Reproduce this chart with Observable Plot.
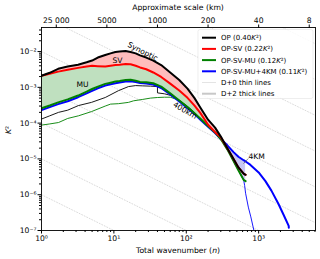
<!DOCTYPE html>
<html><head><meta charset="utf-8">
<script src="https://cdn.jsdelivr.net/npm/d3@7"></script>
<script src="https://cdn.jsdelivr.net/npm/@observablehq/plot@0.6"></script>
<style>body{margin:0;background:#fff}</style>
</head><body><div id="chart"></div>
<script>
// ---- data ----
const thickN = [1, 1.3, 1.7, 2.3, 3.2, 4.2, 5, 6, 7.6, 9, 10.5, 12, 14.5, 17, 20, 23, 28, 35, 45, 60, 80, 104, 130, 157, 200, 250, 300, 369, 450, 525, 620, 660];
const opD2   = [2.1e-3, 2.55e-3, 3.3e-3, 3.8e-3, 4.3e-3, 5.0e-3, 5.6e-3, 6.8e-3, 8.0e-3, 8.9e-3, 9.7e-3, 1.0e-2, 1.03e-2, 9.7e-3, 8.9e-3, 7.8e-3, 6.8e-3, 5.6e-3, 4.2e-3, 2.6e-3, 1.6e-3, 9.2e-4, 5.0e-4, 2.7e-4, 1.25e-4, 7.5e-5, 4.2e-5, 2.0e-5, 1.0e-5, 5.8e-6, 3.9e-6, 3.6e-6];
const svD2   = [2.1e-3, 2.4e-3, 2.75e-3, 3.1e-3, 3.5e-3, 3.8e-3, 4.0e-3, 3.9e-3, 3.8e-3, 4.0e-3, 4.2e-3, 4.3e-3, 4.5e-3, 4.4e-3, 4.0e-3, 3.6e-3, 3.2e-3, 2.6e-3, 1.95e-3, 1.27e-3, 8.2e-4, 5.1e-4, 3.1e-4, 1.9e-4, 9.0e-5, 5.6e-5, 4.0e-5, 2.0e-5, 1.0e-5, 5.8e-6, 3.9e-6, 3.6e-6];
const muD2   = [2.6e-4, 3.1e-4, 3.8e-4, 4.6e-4, 5.9e-4, 7.6e-4, 9.0e-4, 1.05e-3, 1.25e-3, 1.35e-3, 1.45e-3, 1.5e-3, 1.6e-3, 1.62e-3, 1.52e-3, 1.42e-3, 1.38e-3, 1.3e-3, 1.05e-3, 6.8e-4, 4.3e-4, 2.8e-4, 1.9e-4, 1.33e-4, 8.3e-5, 5.5e-5, 3.6e-5, 1.85e-5, 8.8e-6, 4.8e-6, 2.6e-6, 2.4e-6];
const kmN    = [1, 1.3, 1.7, 2.3, 3.2, 4.2, 5, 6, 7.6, 9, 10.5, 12, 14.5, 17, 20, 23, 28, 35, 45, 60, 80, 104, 130, 157, 200, 250, 300, 369, 450, 525, 620, 660, 770, 1000, 1240, 1500, 1880, 2200, 2600, 2610];
const kmD2   = [2.3e-4, 2.8e-4, 3.4e-4, 4.1e-4, 5.3e-4, 6.8e-4, 8.0e-4, 9.4e-4, 1.12e-3, 1.22e-3, 1.3e-3, 1.36e-3, 1.45e-3, 1.47e-3, 1.4e-3, 1.32e-3, 1.28e-3, 1.2e-3, 9.6e-4, 6.3e-4, 4.0e-4, 2.6e-4, 1.8e-4, 1.25e-4, 7.9e-5, 5.3e-5, 3.6e-5, 2.4e-5, 1.55e-5, 1.15e-5, 9.2e-6, 8.5e-6, 6.8e-6, 4.2e-6, 2.4e-6, 1.3e-6, 5.5e-7, 2.8e-7, 1.35e-7, 1.2e-7];

const thinOpN = [1, 1.3, 1.72, 2.3, 3.24, 4.9, 7.6, 11.6, 15.9, 20, 25, 32, 40, 40.01, 50, 60, 80, 104, 130, 157, 200, 250, 300];
const opD0    = [1.3e-4, 1.6e-4, 2.0e-4, 2.3e-4, 3.1e-4, 3.8e-4, 5.2e-4, 8.1e-4, 1.05e-3, 1.12e-3, 1.1e-3, 1.08e-3, 1.05e-3, 7.0e-4, 6.6e-4, 6.0e-4, 4.3e-4, 2.9e-4, 1.95e-4, 1.35e-4, 8.3e-5, 5.3e-5, 3.7e-5];
const thinMuN = [1, 1.3, 1.72, 2.3, 3.24, 4.9, 7.6, 9, 11.6, 15.9, 18.7, 25, 32, 40, 50, 60, 80, 104, 130, 157, 200, 250, 300, 369, 450, 525, 620];
const muD0    = [8.8e-5, 9.5e-5, 1.04e-4, 1.35e-4, 1.6e-4, 2.1e-4, 3.0e-4, 3.4e-4, 3.5e-4, 3.8e-4, 4.2e-4, 4.6e-4, 5.0e-4, 5.2e-4, 5.3e-4, 5.3e-4, 4.4e-4, 2.9e-4, 1.95e-4, 1.35e-4, 8.3e-5, 5.3e-5, 3.6e-5, 1.85e-5, 8.8e-6, 4.8e-6, 2.6e-6];
const thinKmN = [369, 450, 525, 620, 640, 660, 720, 780, 870];
const kmD0    = [1.85e-5, 8.8e-6, 4.8e-6, 2.6e-6, 1.8e-6, 1.1e-6, 4.5e-7, 2.4e-7, 9e-8];

const seriesNames = ["OP", "OP-SV", "OP-SV-MU", "OP-SV-MU+4KM"];
const seriesEnergy = ["0.40", "0.22", "0.12", "0.11"];
const seriesColors = ["black", "red", "green", "blue"];

const yTicks = [1e-7, 1e-6, 1e-5, 1e-4, 1e-3, 1e-2];
const yTickLabels = ["10⁻⁷", "10⁻⁶", "10⁻⁵", "10⁻⁴", "10⁻³", "10⁻²"];
const xTicks = [1, 10, 100, 1000];
const xTickLabels = ["10⁰", "10¹", "10²", "10³"];
const scaleKm = [25000, 5000, 1000, 200, 40, 8];
const scaleLabels = ["25 000", "5000", "1000", "200", "40", "8"];
const refC = [1e-8, 1e-7, 1e-6, 1e-5, 1e-4, 1e-3, 1e-2, 1e-1, 1, 10, 100];

const annN = [25, 11.2, 3.68, 96, 940];
const annK = [1.0e-2, 5.6e-3, 1.2e-3, 2.25e-4, 1.17e-5];
const annText = ["Synoptic", "SV", "MU", "400km", "4KM"];
const annRot = [27, 0, 0, 30, 0];

// ---- tables ----
const font = "DejaVu Sans";
const thick = thickN.map((n, i) => ({n, op: opD2[i], sv: svD2[i], mu: muD2[i], km: kmD2[i]}));
const kmFill = thick.filter(d => d.n >= 300);
const opRows = thickN.map((n, i) => ({n, k: opD2[i]}));
const svRows = thickN.map((n, i) => ({n, k: svD2[i]}));
const muRows = thickN.map((n, i) => ({n, k: muD2[i]}));
const kmRows = kmN.map((n, i) => ({n, k: kmD2[i]}));
const op0 = thinOpN.map((n, i) => ({n, k: opD0[i]}));
const mu0 = thinMuN.map((n, i) => ({n, k: muD0[i]}));
const km0 = thinKmN.map((n, i) => ({n, k: kmD0[i]}));
const refRows = refC.flatMap(c => [1, 7000].map(n => ({c, n, k: c / n})));
const ann = annText.map((t, i) => ({t, n: annN[i], k: annK[i], r: annRot[i]}));
const minorX = [], minorY = [];
for (let e = 0; e < 4; e++) for (let m = 2; m < 10; m++) { const v = m * 10 ** e; if (v < 6100) minorX.push(v); }
for (let e = -7; e < -1; e++) for (let m = 2; m < 10; m++) { const v = m * 10 ** e; if (v < 0.047) minorY.push(v); }
const topRows = scaleKm.map((s, i) => ({n: 40000 / s, label: scaleLabels[i]}));

const plot = Plot.plot({
  width: 320, height: 259,
  marginTop: 27, marginBottom: 29, marginLeft: 41, marginRight: 5,
  style: {fontFamily: font, fontSize: "7.5px", background: "white", color: "black", overflow: "visible"},
  x: {type: "log", domain: [1, 6100]},
  y: {type: "log", domain: [1e-7, 0.047]},
  marks: [
    Plot.line(refRows, {x: "n", y: "k", z: "c", stroke: "#d2d2d2", strokeWidth: 0.8, strokeDasharray: "1,1.8", clip: true}),
    Plot.areaY(thick, {x: "n", y1: "sv", y2: "op", fill: "#ffbcbc"}),
    Plot.areaY(thick, {x: "n", y1: "mu", y2: "sv", fill: "#bfe0bf"}),
    Plot.areaY(kmFill, {x: "n", y1: "mu", y2: "km", fill: "#c8c8f4"}),
    Plot.line(op0, {x: "n", y: "k", stroke: "black", strokeWidth: 0.9, clip: true}),
    Plot.line(mu0, {x: "n", y: "k", stroke: "green", strokeWidth: 0.9, clip: true}),
    Plot.line(km0, {x: "n", y: "k", stroke: "blue", strokeWidth: 0.9, clip: true}),
    Plot.line(kmRows, {x: "n", y: "k", stroke: "blue", strokeWidth: 2, clip: true}),
    Plot.line(muRows, {x: "n", y: "k", stroke: "green", strokeWidth: 2, clip: true}),
    Plot.line(svRows, {x: "n", y: "k", stroke: "red", strokeWidth: 2, clip: true}),
    Plot.line(opRows, {x: "n", y: "k", stroke: "black", strokeWidth: 2, clip: true}),
    Plot.link([{x1: 617, y1: 7.4e-6, x2: 720, y2: 1.03e-5}], {x1: "x1", y1: "y1", x2: "x2", y2: "y2", stroke: "#555", strokeWidth: 0.7}),
    Plot.text(ann, {x: "n", y: "k", text: "t", rotate: "r", fontSize: 7.6, fill: "black"}),
    Plot.axisY(yTicks, {anchor: "left", tickSize: 3.5, tickPadding: 1.5, label: null, tickFormat: d => yTickLabels[yTicks.indexOf(d)], fontSize: 7.6}),
    Plot.axisY(minorY, {anchor: "left", tickSize: 2, label: null, tickFormat: () => ""}),
    Plot.axisX(xTicks, {anchor: "bottom", tickSize: 3.5, tickPadding: 1.5, label: null, tickFormat: d => xTickLabels[xTicks.indexOf(d)], fontSize: 7.6}),
    Plot.axisX(minorX, {anchor: "bottom", tickSize: 2, label: null, tickFormat: () => ""}),
    Plot.axisX(topRows.map(d => d.n), {anchor: "top", tickSize: 3.5, label: null, tickFormat: () => ""}),
    Plot.text(topRows, {x: "n", text: "label", frameAnchor: "top", dy: -10, fontSize: 7.6, fill: "black"}),
    Plot.frame({stroke: "black", strokeWidth: 0.9})
  ]
});

const svg = d3.select(plot);
// axis titles
svg.append("text").attr("x", 178).attr("y", 10).attr("text-anchor", "middle").attr("font-family", font).attr("font-size", 7.7).text("Approximate scale (km)");
const xl = svg.append("text").attr("x", 178).attr("y", 253).attr("text-anchor", "middle").attr("font-family", font).attr("font-size", 7.7);
xl.append("tspan").text("Total wavenumber (");
xl.append("tspan").attr("font-style", "italic").text("n");
xl.append("tspan").text(")");
const yl = svg.append("text").attr("transform", "translate(11,130) rotate(-90)").attr("text-anchor", "middle").attr("font-family", font).attr("font-size", 7.7);
yl.append("tspan").attr("font-style", "italic").text("K");
yl.append("tspan").text("²");

// legend
const lg = svg.append("g").attr("font-family", font).attr("font-size", 7).attr("text-anchor", "start");
lg.append("rect").attr("x", 198).attr("y", 29.5).attr("width", 115).attr("height", 69).attr("rx", 2)
  .attr("fill", "white").attr("fill-opacity", 0.85).attr("stroke", "#e2e2e2").attr("stroke-width", 0.6);
const items = seriesNames.map((nm, i) => ({color: seriesColors[i], w: 2, parts: [[nm + " (" + seriesEnergy[i], false], ["K", true], ["²)", false]]}))
  .concat([{color: "#e4e4e4", w: 1, parts: [["D+0 thin lines", false]]}, {color: "#c8c8c8", w: 2, parts: [["D+2 thick lines", false]]}]);
items.forEach((it, i) => {
  const y = 37.7 + i * 11.2;
  lg.append("line").attr("x1", 202).attr("x2", 216).attr("y1", y).attr("y2", y).attr("stroke", it.color).attr("stroke-width", it.w);
  const t = lg.append("text").attr("x", 221).attr("y", y).attr("dy", "0.35em").attr("text-anchor", "start");
  it.parts.forEach(([s, it2]) => { const sp = t.append("tspan").text(s); if (it2) sp.attr("font-style", "italic"); });
});

document.getElementById("chart").appendChild(plot);
</script>
</body></html>
